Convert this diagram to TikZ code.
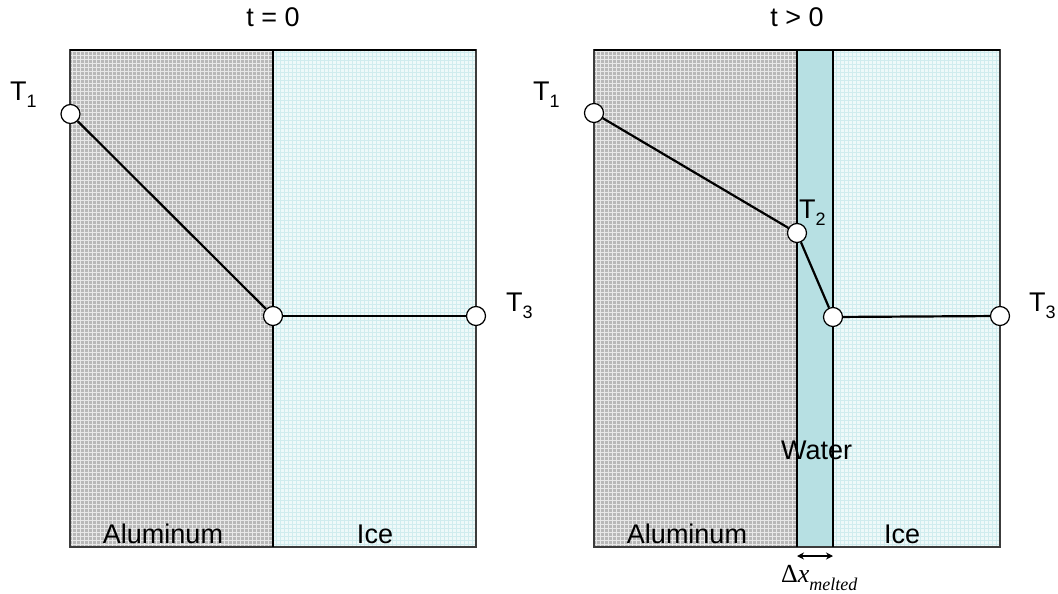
\documentclass[tikz,border=0pt]{standalone}
\usepackage{fontspec}
\setmainfont{Liberation Sans}
\newfontfamily\seriffont{Liberation Serif}
\usetikzlibrary{arrows.meta}
\definecolor{alu}{RGB}{184,184,184}
\definecolor{alugrid}{RGB}{232,232,232}
\definecolor{icebase}{RGB}{238,249,249}
\definecolor{icegrid}{RGB}{208,236,238}
\definecolor{water}{RGB}{183,224,227}
\definecolor{edge}{RGB}{60,60,60}
\begin{document}
\begin{tikzpicture}[x=1pt,y=-1pt,
  lbl/.style={font=\fontsize{27}{30}\selectfont, inner sep=0pt},
  dot/.style={circle, draw=black, fill=white, line width=1.2pt, minimum size=19pt, inner sep=0pt},
  prof/.style={line width=2.2pt, black},
  alugridstyle/.style={alugrid, line width=1pt},
  icegridstyle/.style={icegrid, line width=0.8pt},
  divider/.style={black, line width=1.5pt},
  frame/.style={edge, line width=1.2pt}]
\useasboundingbox (0,0) rectangle (1058,594);
\newcommand{\sub}[1]{\raisebox{-7pt}{\fontsize{18}{20}\selectfont #1}}

% ---------- left panel ----------
\fill[alu] (70,50) rectangle (273,547);
\begin{scope}
\clip (70,50) rectangle (273,547);
\draw[alugridstyle, step=4pt] (70,50) grid (273,547);
\end{scope}
\fill[icebase] (273,50) rectangle (476,547);
\begin{scope}
\clip (273,50) rectangle (476,547);
\draw[icegridstyle, step=4pt] (273,50) grid (476,547);
\end{scope}
\draw[frame] (70,50) rectangle (476,547);
\draw[divider] (70,50) -- (476,50);
\draw[divider] (273,50) -- (273,547);

% ---------- right panel ----------
\fill[alu] (594,50) rectangle (797,547);
\begin{scope}
\clip (594,50) rectangle (797,547);
\draw[alugridstyle, step=4pt] (594,50) grid (797,547);
\end{scope}
\fill[water] (797,50) rectangle (833,547);
\fill[icebase] (833,50) rectangle (1000,547);
\begin{scope}
\clip (833,50) rectangle (1000,547);
\draw[icegridstyle, step=4pt] (833,50) grid (1000,547);
\end{scope}
\draw[frame] (594,50) rectangle (1000,547);
\draw[divider] (594,50) -- (1000,50);
\draw[divider] (797,50) -- (797,547);
\draw[divider] (833,50) -- (833,547);

% ---------- titles ----------
\node[lbl, anchor=base] (t0) at (273,27) {t = 0};
\node[lbl, anchor=base] (tp) at (797,27) {t > 0};

% ---------- material labels ----------
\node[lbl, anchor=base] (alL) at (163,543) {Aluminum};
\node[lbl, anchor=base] (iceL) at (375,543) {Ice};
\node[lbl, anchor=base] (alR) at (687,543) {Aluminum};
\node[lbl, anchor=base] (iceR) at (902,543) {Ice};
\node[lbl, anchor=base west] (wat) at (781,459) {Water};

% ---------- temperature profiles ----------
\node[dot] (L1) at (70.5,114) {};
\node[dot] (Lj) at (273,316) {};
\node[dot] (L3) at (476,316) {};
\node[dot] (R1) at (594,113) {};
\node[dot] (R2) at (797,233) {};
\node[dot] (Rj) at (833,317) {};
\node[dot] (R3) at (1000,316) {};
\draw[prof] (L1) -- (Lj);
\draw[prof] (Lj) -- (L3);
\draw[prof] (R1) -- (R2);
\draw[prof] (R2) -- (Rj);
\draw[prof] (Rj) -- (R3);

% ---------- temperature labels ----------
\node[lbl, anchor=base west] (T1L) at (10,100) {T\sub{1}};
\node[lbl, anchor=base west] (T1R) at (533,100) {T\sub{1}};
\node[lbl, anchor=base west] (T2R) at (799,218) {T\sub{2}};
\node[lbl, anchor=base west] (T3L) at (506,311) {T\sub{3}};
\node[lbl, anchor=base west] (T3R) at (1029,311) {T\sub{3}};

% ---------- melted thickness ----------
\coordinate (al) at (797,556);
\coordinate (ar) at (833,556);
\draw[black, line width=1.5pt, {Stealth[length=7pt,width=7pt]}-{Stealth[length=7pt,width=7pt]}] (al) -- (ar);
\node[inner sep=0pt, anchor=base west] (dx) at (781,582)
  {\seriffont\fontsize{26}{28}\selectfont Δ\textit{x}\raisebox{-8pt}{\fontsize{18}{20}\selectfont\textit{melted}}};
\end{tikzpicture}
\end{document}
